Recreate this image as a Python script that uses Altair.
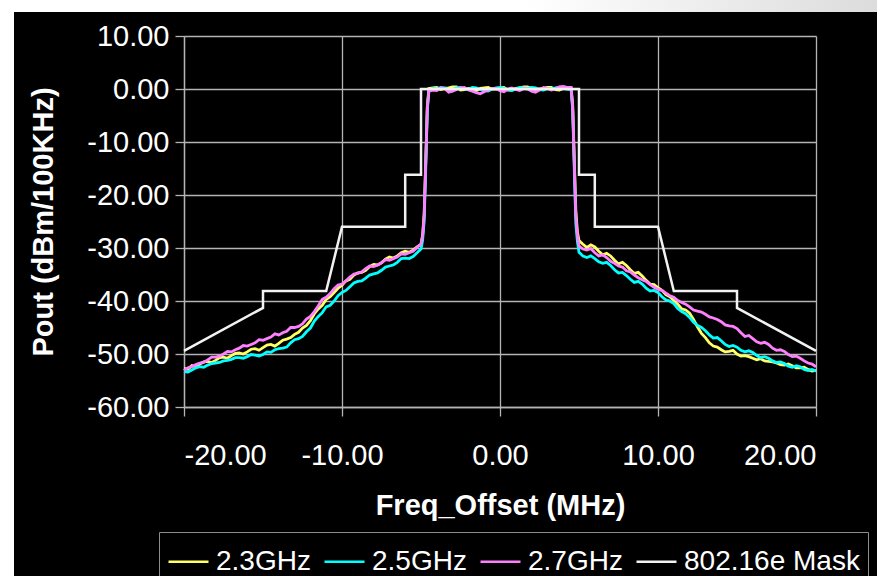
import altair as alt
import pandas as pd

# Frequency offset grid (MHz) shared by the three measured spectra
freq_mhz = [
    -20.0, -19.75, -19.5, -19.25, -19.0, -18.75, -18.5, -18.25, -18.0, -17.75,
    -17.5, -17.25, -17.0, -16.75, -16.5, -16.25, -16.0, -15.75, -15.5, -15.25,
    -15.0, -14.75, -14.5, -14.25, -14.0, -13.75, -13.5, -13.25, -13.0, -12.75,
    -12.5, -12.25, -12.0, -11.75, -11.5, -11.25, -11.0, -10.75, -10.5, -10.25,
    -10.0, -9.75, -9.5, -9.25, -9.0, -8.75, -8.5, -8.25, -8.0, -7.75,
    -7.5, -7.25, -7.0, -6.75, -6.5, -6.25, -6.0, -5.75, -5.5, -5.25, -5.0,
    -4.9, -4.8, -4.7, -4.6, -4.5,
    -4.25, -4.0, -3.75, -3.5, -3.25, -3.0, -2.75, -2.5, -2.25, -2.0,
    -1.75, -1.5, -1.25, -1.0, -0.75, -0.5, -0.25, 0.0, 0.25, 0.5,
    0.75, 1.0, 1.25, 1.5, 1.75, 2.0, 2.25, 2.5, 2.75, 3.0,
    3.25, 3.5, 3.75, 4.0, 4.25,
    4.5, 4.6, 4.7, 4.8, 4.9,
    5.0, 5.25, 5.5, 5.75, 6.0, 6.25, 6.5, 6.75, 7.0, 7.25,
    7.5, 7.75, 8.0, 8.25, 8.5, 8.75, 9.0, 9.25, 9.5, 9.75,
    10.0, 10.25, 10.5, 10.75, 11.0, 11.25, 11.5, 11.75, 12.0, 12.25,
    12.5, 12.75, 13.0, 13.25, 13.5, 13.75, 14.0, 14.25, 14.5, 14.75,
    15.0, 15.25, 15.5, 15.75, 16.0, 16.25, 16.5, 16.75, 17.0, 17.25,
    17.5, 17.75, 18.0, 18.25, 18.5, 18.75, 19.0, 19.25, 19.5, 19.75, 20.0,
]

# Output power per 100 kHz (dBm) at 2.3 GHz
pout_23 = [
    -52.7, -52.9, -52.2, -52.4, -51.9, -51.5, -51.4, -51.6, -51.2, -50.7,
    -50.6, -50.8, -50.3, -49.9, -49.8, -50.0, -49.6, -49.1, -49.0, -49.3,
    -48.8, -48.3, -48.2, -48.5, -48.0, -47.4, -47.2, -46.9, -46.3, -45.9,
    -45.1, -44.6, -43.7, -42.4, -41.5, -40.8, -39.7, -39.2, -38.4, -37.6,
    -37.0, -36.2, -35.9, -35.1, -34.7, -34.6, -34.2, -33.5, -33.1, -33.2,
    -32.8, -32.1, -31.7, -31.9, -31.5, -30.9, -30.6, -30.8, -30.4, -29.8, -29.3,
    -27.6, -23.5, -13.5, -3.2, 0.1,
    0.2, 0.3, -0.1, 0.1, 0.2, 0.4, 0.4, -0.2, -0.1, 0.1,
    0.0, -0.3, 0.1, 0.2, 0.3, 0.0, 0.0, 0.2, 0.3, -0.2,
    -0.2, 0.1, 0.2, 0.4, 0.4, 0.1, -0.1, 0.0, 0.1, 0.3,
    0.3, -0.1, -0.2, 0.1, 0.2,
    0.2, -3.0, -13.0, -23.0, -27.0,
    -28.6, -29.3, -29.9, -29.4, -29.8, -30.6, -31.3, -31.0, -31.5, -32.3,
    -33.0, -32.7, -33.3, -34.1, -34.8, -34.6, -35.3, -36.1, -36.8, -36.9,
    -37.5, -38.0, -38.8, -39.2, -39.9, -40.6, -41.5, -41.7, -42.3, -43.5,
    -44.9, -46.1, -46.9, -47.9, -48.5, -48.7, -49.2, -49.6, -49.5, -49.3,
    -50.0, -50.4, -50.3, -50.5, -50.8, -51.1, -50.9, -51.3, -51.4, -51.5,
    -51.7, -52.0, -52.1, -51.9, -52.2, -52.6, -52.6, -52.5, -52.9, -53.2, -53.1,
]

# Output power per 100 kHz (dBm) at 2.5 GHz
pout_25 = [
    -53.3, -53.4, -53.0, -52.6, -52.4, -52.5, -52.1, -51.8, -51.7, -51.6,
    -51.3, -51.2, -51.0, -50.7, -50.7, -50.8, -50.5, -50.1, -50.2, -50.4,
    -50.1, -49.6, -49.7, -49.2, -49.0, -48.9, -48.7, -47.9, -47.3, -47.1,
    -46.7, -45.8, -45.1, -43.8, -42.9, -42.2, -41.1, -40.8, -40.0, -39.0,
    -38.4, -38.0, -37.3, -36.6, -36.3, -36.2, -35.7, -35.1, -34.9, -34.7,
    -34.2, -33.6, -33.4, -33.2, -32.7, -32.0, -31.9, -32.0, -31.6, -30.9, -30.2,
    -28.6, -25.0, -15.0, -4.0, -0.2,
    0.1, 0.0, 0.3, 0.2, -0.2, -0.1, 0.2, 0.3, 0.0, -0.1,
    0.3, 0.2, -0.1, -0.3, -0.4, 0.0, 0.2, 0.3, 0.1, -0.1,
    -0.3, 0.0, 0.3, 0.2, 0.1, 0.3, 0.2, -0.1, -0.2, 0.1,
    0.0, 0.2, 0.3, 0.1, 0.0,
    -0.1, -4.0, -15.0, -25.5, -28.8,
    -30.8, -31.5, -31.8, -31.5, -32.0, -32.6, -32.9, -32.7, -33.3, -34.1,
    -34.7, -34.6, -35.2, -35.9, -36.5, -36.3, -36.8, -37.6, -38.1, -38.0,
    -38.4, -39.2, -39.8, -40.0, -40.5, -41.4, -42.0, -42.4, -43.1, -44.0,
    -44.6, -45.0, -45.6, -46.4, -47.0, -46.9, -47.5, -48.2, -48.6, -48.4,
    -48.7, -49.3, -49.6, -49.4, -49.7, -50.3, -50.7, -50.5, -50.8, -51.3,
    -51.6, -51.5, -51.8, -52.3, -52.5, -52.2, -52.4, -52.9, -53.1, -52.9, -53.2,
]

# Output power per 100 kHz (dBm) at 2.7 GHz
pout_27 = [
    -53.1, -52.6, -52.4, -52.0, -51.7, -51.6, -51.1, -50.6, -50.6, -50.4,
    -50.0, -49.5, -49.6, -49.2, -48.9, -48.4, -48.5, -48.2, -47.9, -47.3,
    -47.4, -47.1, -46.8, -46.2, -46.4, -46.0, -45.7, -45.0, -45.0, -44.8,
    -44.3, -43.4, -42.9, -42.0, -40.9, -39.7, -39.3, -38.6, -37.7, -37.0,
    -36.8, -36.2, -35.5, -34.9, -34.8, -34.5, -33.9, -33.4, -33.5, -33.2,
    -32.8, -32.2, -32.3, -32.0, -31.7, -31.1, -31.2, -30.9, -30.6, -29.9, -29.2,
    -27.8, -24.0, -14.0, -3.5, -0.4,
    -0.2, -0.3, 0.2, 0.1, -0.6, -0.4, -0.1, 0.2, 0.3, -0.2,
    -0.4, -0.7, -0.9, -0.5, -0.2, 0.1, 0.1, -0.3, -0.5, 0.0,
    0.2, -0.1, -0.3, 0.1, 0.0, -0.4, -0.6, -0.2, 0.3, 0.1,
    -0.2, 0.0, 0.4, 0.5, 0.3,
    0.3, -3.5, -14.0, -24.0, -27.6,
    -29.6, -30.2, -30.4, -30.1, -30.9, -31.5, -31.3, -31.8, -32.5, -32.9,
    -33.4, -33.6, -34.3, -34.5, -35.1, -35.6, -36.0, -36.3, -36.9, -37.4,
    -37.8, -38.0, -38.5, -39.0, -39.3, -39.9, -40.3, -40.6, -41.1, -41.7,
    -41.9, -42.1, -42.5, -43.0, -43.2, -43.5, -43.9, -44.5, -44.7, -44.8,
    -45.2, -46.0, -46.7, -46.5, -47.1, -47.7, -48.0, -47.8, -48.2, -48.9,
    -49.3, -49.2, -49.5, -50.1, -50.5, -50.4, -50.8, -51.3, -51.7, -51.9, -52.4,
]

# 802.16e spectral emission mask corners
mask_freq = [-20, -15, -15, -11, -10, -6, -6, -5, -5, 5, 5, 6, 6, 10, 11, 15, 15, 20]
mask_level = [-49.4, -41.3, -38.1, -38.1, -26, -26, -16.2, -16.2, 0,
              0, -16.2, -16.2, -26, -26, -38.1, -38.1, -41.3, -49.4]

series_names = ["2.3GHz", "2.5GHz", "2.7GHz", "802.16e Mask"]
series_colors = ["#ffff66", "#00ffff", "#ff80ff", "#f2f2f2"]

x_ticks = [-20, -10, 0, 10, 20]
y_ticks = [-60, -50, -40, -30, -20, -10, 0, 10]

FONT = "Liberation Sans, Arial"
FONT_SIZE = 29
# two-decimal labels with a plain hyphen for negatives
LABEL_EXPR = "replace(format(datum.value, '.2f'), '\u2212', '-')"

rows = []
for name, values in zip(series_names[:3], [pout_23, pout_25, pout_27]):
    for f, p in zip(freq_mhz, values):
        rows.append({"series": name, "freq": f, "pout": p})
spectra = pd.DataFrame(rows)

mask = pd.DataFrame({
    "series": series_names[3],
    "freq": mask_freq,
    "pout": mask_level,
    "step": list(range(len(mask_freq))),
})

color = alt.Color(
    "series:N",
    scale=alt.Scale(domain=series_names, range=series_colors),
    legend=alt.Legend(
        orient="none", legendX=-25, legendY=496,
        direction="horizontal", columns=4, title=None,
        symbolType="stroke", symbolSize=1600, symbolStrokeWidth=2.5,
        labelFontSize=28, labelColor="white", labelFont=FONT, labelLimit=400,
        labelOffset=6, columnPadding=8,
        strokeColor="#8c8c8c", fillColor="black", padding=8,
    ),
)

x_enc = alt.X(
    "freq:Q",
    scale=alt.Scale(domain=[-20, 20], nice=False, zero=False),
    axis=alt.Axis(values=x_ticks, labelExpr=LABEL_EXPR, title="Freq_Offset (MHz)",
                  labelPadding=25, titlePadding=21),
)
y_enc = alt.Y(
    "pout:Q",
    scale=alt.Scale(domain=[-60, 10], nice=False, zero=False),
    axis=alt.Axis(values=y_ticks, labelExpr=LABEL_EXPR, title="Pout (dBm/100KHz)",
                  labelPadding=6, titlePadding=28),
)

one_row = pd.DataFrame({"k": [0]})

# light strip along the top edge, fading to grey on the right
top_strip = alt.Chart(one_row).mark_rect(
    color=alt.LinearGradient(
        gradient="linear", x1=0, x2=1, y1=0, y2=0,
        stops=[alt.GradientStop(color="#ffffff", offset=0),
               alt.GradientStop(color="#ffffff", offset=0.6),
               alt.GradientStop(color="#dcdcdc", offset=1)],
    )
).encode(x=alt.value(-184), x2=alt.value(693), y=alt.value(-36), y2=alt.value(-24))

left_strip = alt.Chart(one_row).mark_rect(color="white").encode(
    x=alt.value(-184), x2=alt.value(-170), y=alt.value(-36), y2=alt.value(540)
)

spectra_lines = alt.Chart(spectra).mark_line(strokeWidth=2.8).encode(
    x=x_enc, y=y_enc, color=color
)

mask_line = alt.Chart(mask).mark_line(strokeWidth=2.5).encode(
    x="freq:Q", y="pout:Q", color=color, order="step:Q"
)

chart = (
    alt.layer(top_strip, left_strip, spectra_lines, mask_line)
    .properties(
        width=632, height=371,
        autosize=alt.AutoSizeParams(type="none"),
        padding={"left": 184, "top": 36, "right": 61, "bottom": 169},
        background="black",
    )
    .configure_view(stroke=None)
    .configure_axis(
        labelFont=FONT, titleFont=FONT,
        labelFontSize=FONT_SIZE, titleFontSize=FONT_SIZE,
        labelColor="white", titleColor="white", titleFontWeight="bold",
        gridColor="#b4b4b4", gridWidth=1.3,
        domainColor="#b4b4b4", domainWidth=1.3,
        tickColor="#b4b4b4", tickSize=9, tickWidth=1.3,
    )
)

chart.save("out.html", embed_options={"renderer": "svg", "actions": False})
